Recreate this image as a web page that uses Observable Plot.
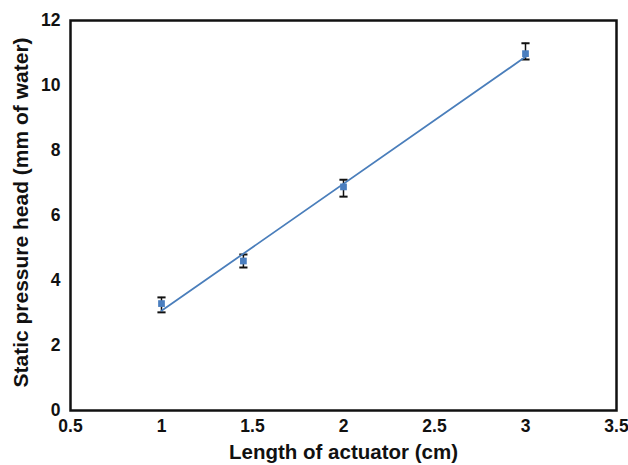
<!DOCTYPE html>
<html>
<head>
<meta charset="utf-8">
<script src="https://cdn.jsdelivr.net/npm/d3@7"></script>
<script src="https://cdn.jsdelivr.net/npm/@observablehq/plot@0.6"></script>
<style>
  body { margin: 0; background: #fff; }
  #chart svg { font-family: "Liberation Sans", Arial, sans-serif; }
</style>
</head>
<body>
<div id="chart"></div>
<script>
const lengths = [1.0, 1.45, 2.0, 3.0];
const pressure = [3.29, 4.6, 6.88, 10.98];
const errLow = [3.02, 4.4, 6.58, 10.8];
const errHigh = [3.48, 4.8, 7.1, 11.3];
const xTicks = [0.5, 1, 1.5, 2, 2.5, 3, 3.5];
const yTicks = [0, 2, 4, 6, 8, 10, 12];
const xLabel = "Length of actuator (cm)";
const yLabel = "Static pressure head (mm of water)";

const data = lengths.map((x, i) => ({x, y: pressure[i], lo: errLow[i], hi: errHigh[i]}));

const capSymbol = {
  draw(context, size) {
    const w = Math.sqrt(size);
    context.moveTo(-w, 0);
    context.lineTo(w, 0);
  }
};

const chart = Plot.plot({
  width: 628,
  height: 465,
  marginLeft: 70,
  marginRight: 12,
  marginTop: 20,
  marginBottom: 55,
  style: {fontSize: "17.5px", fontWeight: "bold", color: "#111", background: "#fff"},
  x: {domain: [0.5, 3.5]},
  y: {domain: [0, 12]},
  marks: [
    Plot.axisX({ticks: xTicks, tickFormat: d => String(d), tickSize: 0, tickPadding: 9, label: null, fontSize: 17.5, fontWeight: "bold", fill: "#111"}),
    Plot.axisY({ticks: yTicks, tickFormat: d => String(d), tickSize: 0, tickPadding: 10, label: null, fontSize: 17.5, fontWeight: "bold", fill: "#111"}),
    Plot.text([xLabel], {text: d => d, frameAnchor: "bottom", dy: 42, lineAnchor: "middle", textAnchor: "middle", fontSize: 20.5, fontWeight: "bold", fill: "#111"}),
    Plot.text([yLabel], {text: d => d, frameAnchor: "left", dx: -49, dy: -3, rotate: -90, lineAnchor: "middle", textAnchor: "middle", fontSize: 21, fontWeight: "bold", fill: "#111"}),
    Plot.ruleX(data, {x: "x", y1: "lo", y2: "hi", stroke: "#111", strokeWidth: 1.5}),
    Plot.dot(data, {x: "x", y: "lo", symbol: capSymbol, r: 2.3, stroke: "#111", strokeWidth: 2, fill: "none"}),
    Plot.dot(data, {x: "x", y: "hi", symbol: capSymbol, r: 2.3, stroke: "#111", strokeWidth: 2, fill: "none"}),
    Plot.linearRegressionY(data, {x: "x", y: "y", ci: 0, stroke: "#4a7ebb", strokeWidth: 1.8}),
    Plot.dot(data, {x: "x", y: "y", symbol: "square", r: 3.8, fill: "#4a7ebf", stroke: "none"}),
    Plot.frame({stroke: "#111", strokeWidth: 2.5})
  ]
});
document.getElementById("chart").appendChild(chart);
</script>
</body>
</html>
